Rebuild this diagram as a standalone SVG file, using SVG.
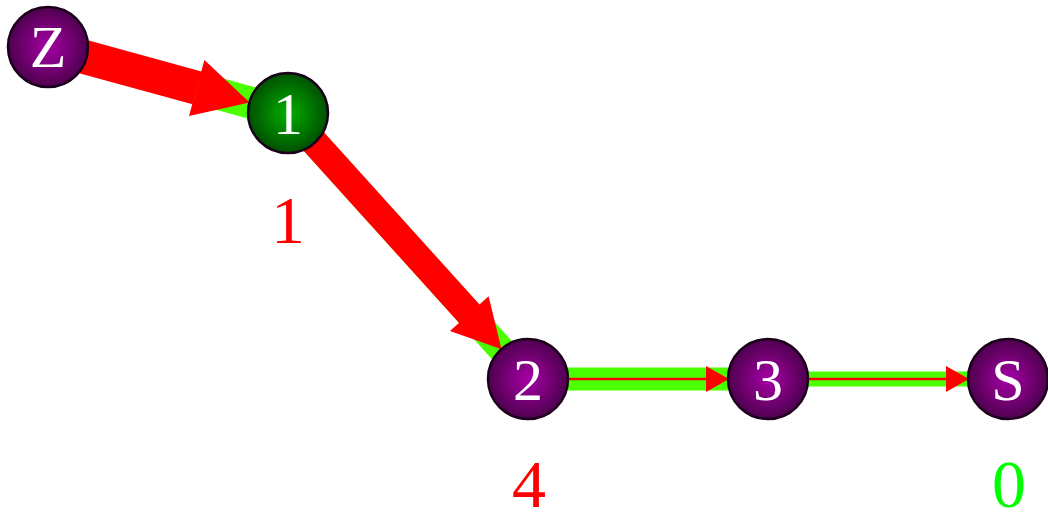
<svg xmlns="http://www.w3.org/2000/svg" width="1048" height="512" viewBox="0 0 1048 512">
  <defs>
    <radialGradient id="gPurple" cx="50%" cy="50%" r="50%">
      <stop offset="0%" stop-color="#a600a6"/>
      <stop offset="100%" stop-color="#4e004e"/>
    </radialGradient>
    <radialGradient id="gGreen" cx="50%" cy="50%" r="50%">
      <stop offset="0%" stop-color="#00b000"/>
      <stop offset="100%" stop-color="#005000"/>
    </radialGradient>
    <style>
      .node { stroke: #1a001a; stroke-width: 2.5; }
      .purple { fill: url(#gPurple); }
      .green { fill: url(#gGreen); }
      .nlabel { font-family: "Liberation Serif", "DejaVu Serif", serif; font-size: 60px; fill: #ffffff; text-anchor: middle; }
      .olabel { font-family: "Liberation Serif", "DejaVu Serif", serif; font-size: 68px; text-anchor: middle; }
      .flow { stroke: #4cff00; fill: none; }
      .red { stroke: #ff0000; fill: none; }
      .head { fill: #ff0000; stroke: none; }
    </style>
  </defs>

  <g id="connectors">
    <line class="flow" x1="48" y1="47" x2="288" y2="113" stroke-width="32"/>
    <line class="flow" x1="288" y1="113" x2="528" y2="379" stroke-width="27"/>
    <line class="flow" x1="528" y1="379" x2="768" y2="379" stroke-width="23"/>
    <line class="flow" x1="768" y1="379" x2="1008" y2="379" stroke-width="15"/>

    <line class="red" x1="48" y1="47" x2="197" y2="87.9" stroke-width="34"/>
    <polygon class="head" points="204.4,59.9 249.7,102.4 189,115.9"/>

    <line class="red" x1="288" y1="113" x2="470" y2="314.5" stroke-width="27.5"/>
    <polygon class="head" points="488.6,296.3 501.5,349.3 450,331.1"/>

    <line class="red" x1="528" y1="379" x2="707" y2="379" stroke-width="2.5"/>
    <polygon class="head" points="706,366 729,379 706,392"/>

    <line class="red" x1="768" y1="379" x2="947" y2="379" stroke-width="2.5"/>
    <polygon class="head" points="946,366 969,379 946,392"/>
  </g>

  <g id="node-Z">
    <circle class="node purple" cx="48" cy="47" r="40"/>
    <text class="nlabel" x="48" y="67">Z</text>
  </g>
  <g id="node-1">
    <circle class="node green" cx="288" cy="113" r="40"/>
    <text class="nlabel" x="288" y="134">1</text>
    <text class="olabel" x="288" y="243" fill="#ff0000">1</text>
  </g>
  <g id="node-2">
    <circle class="node purple" cx="528" cy="379" r="40"/>
    <text class="nlabel" x="528" y="400">2</text>
    <text class="olabel" x="529" y="507" fill="#ff0000">4</text>
  </g>
  <g id="node-3">
    <circle class="node purple" cx="768" cy="379" r="40"/>
    <text class="nlabel" x="768" y="400">3</text>
  </g>
  <g id="node-S">
    <circle class="node purple" cx="1008" cy="379" r="40"/>
    <text class="nlabel" x="1008" y="400">S</text>
    <text class="olabel" x="1009" y="507" fill="#00ff00">0</text>
  </g>
</svg>
